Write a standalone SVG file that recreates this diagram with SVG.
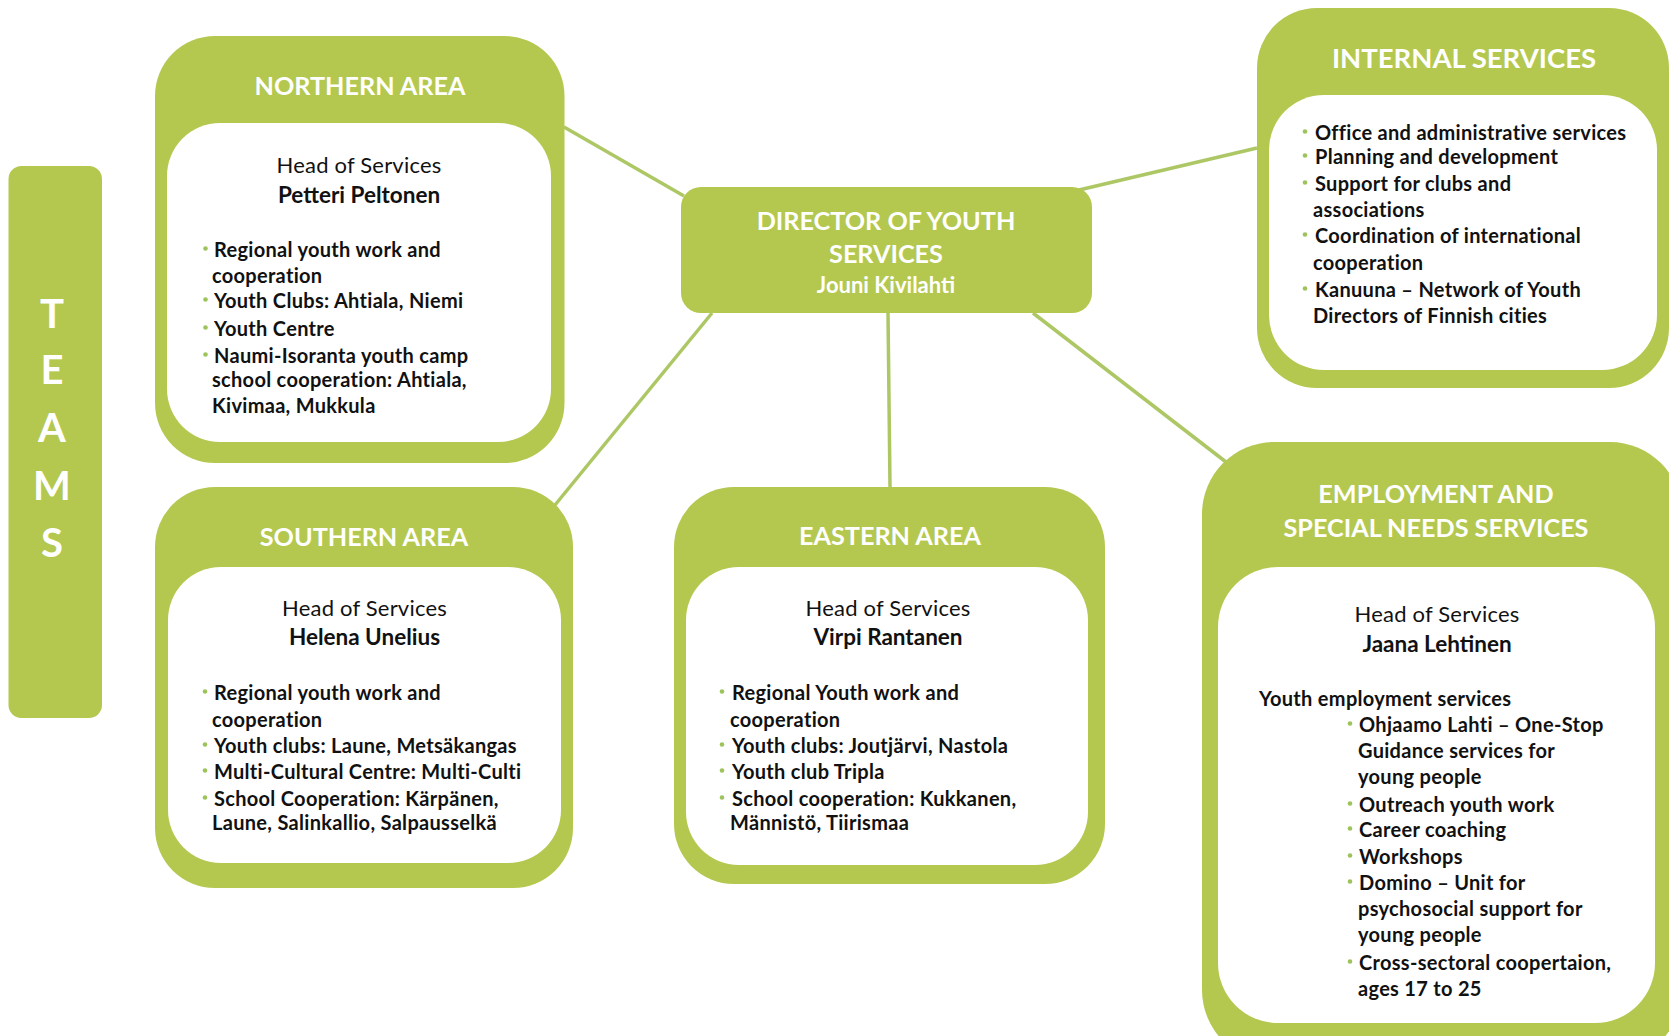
<svg xmlns="http://www.w3.org/2000/svg" width="1669" height="1036" viewBox="0 0 1669 1036">
<style>
.g{fill:#B4C84F}
.w{fill:#FFFFFF}
.conn line{stroke:#ADC765;stroke-width:3.5;fill:none}
.title{font-family:Lato,"Liberation Sans",sans-serif;font-weight:bold;font-size:25.2px;fill:#FFFFFF;text-anchor:middle}
.big{font-size:27.5px}
.dname{font-family:Lato,"Liberation Sans",sans-serif;font-weight:bold;font-size:22px;fill:#FFFFFF;text-anchor:middle}
.teams{font-family:Lato,"Liberation Sans",sans-serif;font-weight:bold;font-size:40px;fill:#FFFFFF;text-anchor:middle}
.head{font-family:Lato,"Liberation Sans",sans-serif;font-size:22px;letter-spacing:0.2px;fill:#111111;text-anchor:middle}
.name{font-family:Lato,"Liberation Sans",sans-serif;font-weight:bold;font-size:22.5px;fill:#111111;text-anchor:middle}
.item{font-family:Lato,"Liberation Sans",sans-serif;font-weight:bold;font-size:20px;letter-spacing:0.3px;fill:#111111}
.bul{fill:#9DC35A}
</style>
<g id="connectors" class="conn">
<line x1="564" y1="127" x2="684" y2="196"/>
<line x1="1079" y1="190" x2="1257" y2="148"/>
<line x1="712" y1="313" x2="555" y2="505"/>
<line x1="888" y1="313" x2="890" y2="487"/>
<line x1="1033" y1="313" x2="1226" y2="462"/>
</g>
<g id="teams">
<rect class="g" x="8.5" y="166" width="93.5" height="552" rx="13"/>
<text class="teams" x="52" y="328">T</text>
<text class="teams" x="52" y="384">E</text>
<text class="teams" x="52" y="442">A</text>
<text class="teams" x="52" y="500">M</text>
<text class="teams" x="52" y="557">S</text>
</g>
<g id="director">
<rect class="g" x="681" y="187" width="411" height="126" rx="20"/>
<text class="title" x="886" y="230">DIRECTOR OF YOUTH</text>
<text class="title" x="886" y="263">SERVICES</text>
<text class="dname" x="886" y="293">Jouni Kivilahti</text>
</g>
<g id="northern">
<rect class="g" x="155" y="36" width="409.5" height="427" rx="60"/>
<rect class="w" x="167" y="123" width="384" height="319" rx="53"/>
<text class="title" x="360" y="95">NORTHERN AREA</text>
<text class="head" x="359" y="173">Head of Services</text>
<text class="name" x="359" y="203">Petteri Peltonen</text>
<circle class="bul" cx="205.5" cy="248.5" r="2.3"/>
<circle class="bul" cx="205.5" cy="299.5" r="2.3"/>
<circle class="bul" cx="205.5" cy="327.5" r="2.3"/>
<circle class="bul" cx="205.5" cy="354.5" r="2.3"/>
<text class="item" x="214" y="257">Regional youth work and</text>
<text class="item" x="212" y="283">cooperation</text>
<text class="item" x="214" y="308">Youth Clubs: Ahtiala, Niemi</text>
<text class="item" x="214" y="336">Youth Centre</text>
<text class="item" x="214" y="363">Naumi-Isoranta youth camp</text>
<text class="item" x="212" y="387">school cooperation: Ahtiala,</text>
<text class="item" x="212" y="413">Kivimaa, Mukkula</text>
</g>
<g id="southern">
<rect class="g" x="155" y="487" width="418" height="401" rx="60"/>
<rect class="w" x="168" y="567" width="393" height="296" rx="53"/>
<text class="title" x="364" y="546">SOUTHERN AREA</text>
<text class="head" x="364.5" y="616">Head of Services</text>
<text class="name" x="364.5" y="645">Helena Unelius</text>
<circle class="bul" cx="205" cy="691.5" r="2.3"/>
<circle class="bul" cx="205" cy="744.5" r="2.3"/>
<circle class="bul" cx="205" cy="770.5" r="2.3"/>
<circle class="bul" cx="205" cy="797.5" r="2.3"/>
<text class="item" x="214" y="700">Regional youth work and</text>
<text class="item" x="212" y="727">cooperation</text>
<text class="item" x="214" y="753">Youth clubs: Laune, Metsäkangas</text>
<text class="item" x="214" y="779">Multi-Cultural Centre: Multi-Culti</text>
<text class="item" x="214" y="806">School Cooperation: Kärpänen,</text>
<text class="item" x="212" y="830">Laune, Salinkallio, Salpausselkä</text>
</g>
<g id="eastern">
<rect class="g" x="674" y="487" width="431" height="397" rx="60"/>
<rect class="w" x="686" y="567" width="402" height="298" rx="53"/>
<text class="title" x="890" y="545">EASTERN AREA</text>
<text class="head" x="888" y="616">Head of Services</text>
<text class="name" x="888" y="645">Virpi Rantanen</text>
<circle class="bul" cx="722" cy="691.5" r="2.3"/>
<circle class="bul" cx="722" cy="744.5" r="2.3"/>
<circle class="bul" cx="722" cy="770.5" r="2.3"/>
<circle class="bul" cx="722" cy="797.5" r="2.3"/>
<text class="item" x="732" y="700">Regional Youth work and</text>
<text class="item" x="730" y="727">cooperation</text>
<text class="item" x="732" y="753">Youth clubs: Joutjärvi, Nastola</text>
<text class="item" x="732" y="779">Youth club Tripla</text>
<text class="item" x="732" y="806">School cooperation: Kukkanen,</text>
<text class="item" x="730" y="830">Männistö, Tiirismaa</text>
</g>
<g id="internal">
<rect class="g" x="1257" y="8" width="412" height="380" rx="60"/>
<rect class="w" x="1269" y="95" width="388" height="275" rx="55"/>
<text class="title big" x="1464" y="68">INTERNAL SERVICES</text>
<circle class="bul" cx="1305" cy="131.5" r="2.3"/>
<circle class="bul" cx="1305" cy="155.5" r="2.3"/>
<circle class="bul" cx="1305" cy="182.5" r="2.3"/>
<circle class="bul" cx="1305" cy="234.5" r="2.3"/>
<circle class="bul" cx="1305" cy="288.5" r="2.3"/>
<text class="item" x="1315" y="140">Office and administrative services</text>
<text class="item" x="1315" y="164">Planning and development</text>
<text class="item" x="1315" y="191">Support for clubs and</text>
<text class="item" x="1313" y="217">associations</text>
<text class="item" x="1315" y="243">Coordination of international</text>
<text class="item" x="1313" y="270">cooperation</text>
<text class="item" x="1315" y="297">Kanuuna – Network of Youth</text>
<text class="item" x="1313" y="323">Directors of Finnish cities</text>
</g>
<g id="employment">
<rect class="g" x="1202" y="442" width="480" height="620" rx="72"/>
<rect class="w" x="1218" y="567" width="437" height="456" rx="60"/>
<text class="title" x="1436" y="503">EMPLOYMENT AND</text>
<text class="title" x="1436" y="537">SPECIAL NEEDS SERVICES</text>
<text class="head" x="1437" y="622">Head of Services</text>
<text class="name" x="1437" y="652">Jaana Lehtinen</text>
<text class="item" x="1259" y="706">Youth employment services</text>
<circle class="bul" cx="1350" cy="723.5" r="2.3"/>
<circle class="bul" cx="1350" cy="803.5" r="2.3"/>
<circle class="bul" cx="1350" cy="828.5" r="2.3"/>
<circle class="bul" cx="1350" cy="855.5" r="2.3"/>
<circle class="bul" cx="1350" cy="881.5" r="2.3"/>
<circle class="bul" cx="1350" cy="961.5" r="2.3"/>
<text class="item" x="1359" y="732">Ohjaamo Lahti – One-Stop</text>
<text class="item" x="1358" y="758">Guidance services for</text>
<text class="item" x="1358" y="784">young people</text>
<text class="item" x="1359" y="812">Outreach youth work</text>
<text class="item" x="1359" y="837">Career coaching</text>
<text class="item" x="1359" y="864">Workshops</text>
<text class="item" x="1359" y="890">Domino – Unit for</text>
<text class="item" x="1358" y="916">psychosocial support for</text>
<text class="item" x="1358" y="942">young people</text>
<text class="item" x="1359" y="970">Cross-sectoral coopertaion,</text>
<text class="item" x="1358" y="996">ages 17 to 25</text>
</g>
</svg>
